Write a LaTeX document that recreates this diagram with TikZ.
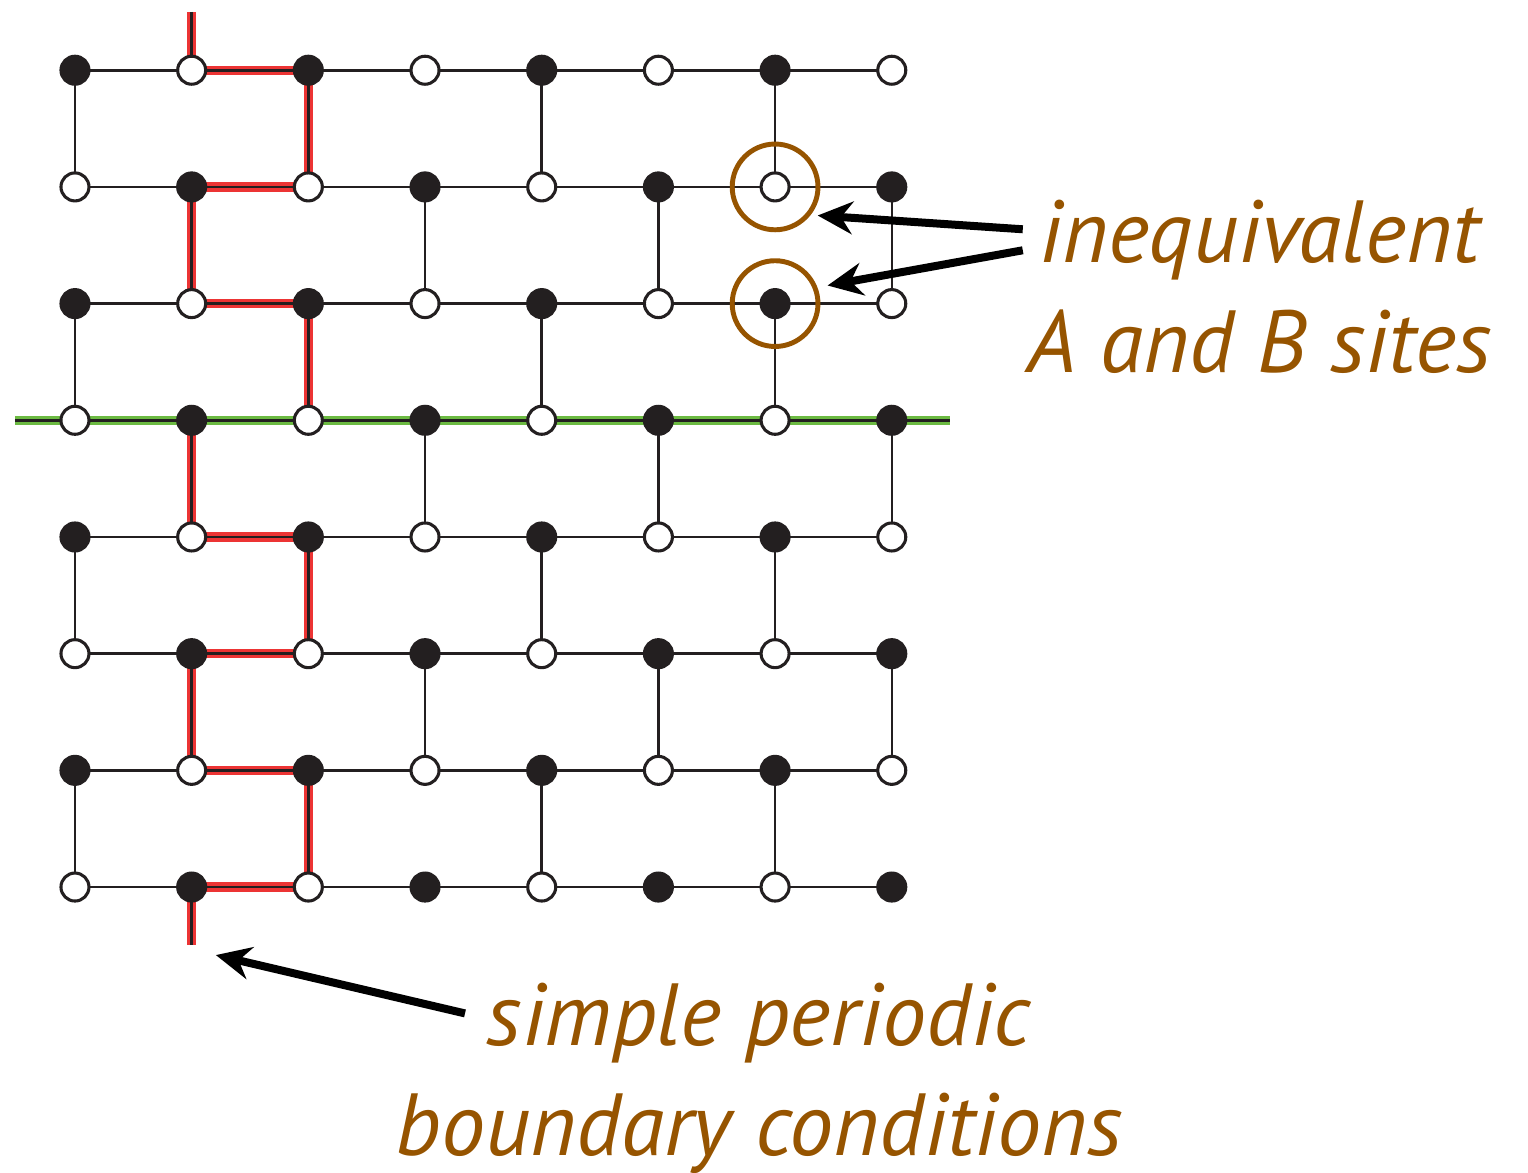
\documentclass[tikz,border=0pt]{standalone}
\usepackage{fontspec}
\usetikzlibrary{arrows.meta, backgrounds}
\newfontfamily\notefont{PT Sans}
\definecolor{ink}{RGB}{35,31,32}
\definecolor{pbcred}{RGB}{236,52,52}
\definecolor{cutgreen}{RGB}{108,186,66}
\definecolor{notebrown}{RGB}{150,84,0}

\begin{document}
\begin{tikzpicture}[
    siteA/.style={circle, draw=ink, fill=ink, line width=1.5pt, minimum size=0.48cm, inner sep=0pt},
    siteB/.style={siteA, fill=white},
    bond/.style={draw=ink, line width=1.25pt},
    pbcpath/.style={draw=pbcred, line width=1.6pt, double=ink, double distance=1.3pt},
    cutline/.style={pbcpath, draw=cutgreen},
    ring/.style={circle, draw=notebrown, line width=2.4pt, minimum size=1.47cm, inner sep=0pt},
    pointer/.style={-{Stealth[length=0.6cm, width=0.56cm, inset=0.2cm]}, line width=3.9pt, black},
    note/.style={font=\notefont\itshape\fontsize{43}{53.6}\selectfont, text=notebrown, align=center, inner sep=0pt},
]

%--- Lattice geometry ---
\def\gx{1.285}      % x of first column
\def\gy{18.886}     % y of top row
\def\cell{2}        % lattice spacing

\useasboundingbox (0,0) rectangle (26.19,20.09);

%============================================================
% Sites: A (filled) and B (open), checkerboard
%============================================================
\foreach \c in {0,...,7}
  \foreach \r in {0,...,7} {
    \pgfmathtruncatemacro\sitekind{mod(\c+\r,2)}
    \ifnum\sitekind=0
      \node[siteA] (s-\c-\r) at (\gx+\c*\cell, \gy-\r*\cell) {};
    \else
      \node[siteB] (s-\c-\r) at (\gx+\c*\cell, \gy-\r*\cell) {};
    \fi
  }

%============================================================
% Bonds (brick lattice), boundary path and cut line
%============================================================
\begin{scope}[on background layer]
  % horizontal chains
  \foreach \r in {0,...,7}
    \draw[bond] (s-0-\r.center) -- (s-7-\r.center);
  % vertical rungs, alternating
  \foreach \r [evaluate=\r as \rr using int(\r+1)] in {0,...,6}
    \foreach \c in {0,...,7} {
      \pgfmathtruncatemacro\rung{mod(\c+\r,2)}
      \ifnum\rung=0
        \draw[bond] (s-\c-\r.center) -- (s-\c-\rr.center);
      \fi
    }

  % periodic boundary path
  \coordinate (pbcTop) at ([yshift=1cm]s-1-0.center);
  \coordinate (pbcBot) at ([yshift=-1cm]s-1-7.center);
  \draw[pbcpath] (pbcTop)
    \foreach \r [evaluate=\r as \rr using int(\r+1)] in {0,2,4,6} {
      -- (s-1-\r.center) -- (s-2-\r.center) -- (s-2-\rr.center) -- (s-1-\rr.center)
    } -- (pbcBot);

  % green cut along row 3
  \coordinate (cutL) at ([xshift=-1.03cm]s-0-3.center);
  \coordinate (cutR) at ([xshift=0.99cm]s-7-3.center);
  \draw[cutline] (cutL) -- (cutR);
\end{scope}

%============================================================
% Inequivalent sites
%============================================================
\node[ring] (ringA) at (s-6-1) {};
\node[ring] (ringB) at (s-6-2) {};

% base anchor sits on the last line
\node[note, anchor=base] (ineq) at (21.59,13.71) {inequivalent\\A and B sites};
\coordinate (tailA) at (17.53,16.16);
\coordinate (tailB) at (17.53,15.80);
\draw[pointer] (tailA) -- ([shift={(0.73,-0.49)}]ringA.center);
\draw[pointer] (tailB) -- ([shift={(0.90,0.31)}]ringB.center);

%============================================================
% Boundary conditions
%============================================================
\node[note, anchor=base] (pbc) at (13.01,0.29) {simple periodic\\boundary conditions};
\coordinate (tailC) at (7.97,2.72);
\draw[pointer] (tailC) -- ([shift={(0.415,-0.166)}]pbcBot);

\end{tikzpicture}
\end{document}
